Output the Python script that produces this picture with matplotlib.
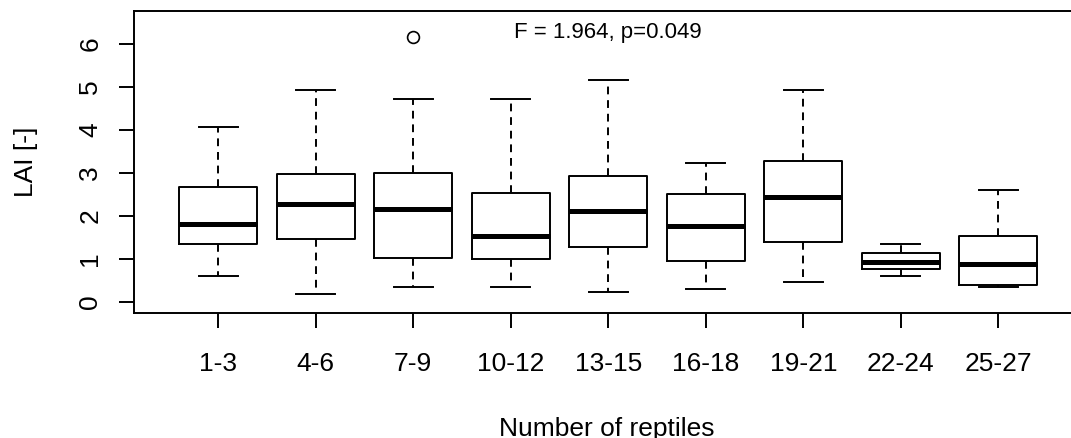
import matplotlib
matplotlib.use("Agg")
import matplotlib.pyplot as plt

plt.rcParams['font.family'] = ['Liberation Sans', 'DejaVu Sans']

groups = ["1-3", "4-6", "7-9", "10-12", "13-15", "16-18", "19-21", "22-24", "25-27"]
whis_lo = [0.61, 0.19, 0.34, 0.34, 0.22, 0.30, 0.45, 0.61, 0.34]
q1 = [1.34, 1.47, 1.03, 1.00, 1.27, 0.96, 1.38, 0.77, 0.38]
med = [1.81, 2.27, 2.15, 1.53, 2.11, 1.77, 2.43, 0.92, 0.88]
q3 = [2.67, 2.96, 2.99, 2.53, 2.92, 2.50, 3.27, 1.14, 1.53]
whis_hi = [4.07, 4.92, 4.72, 4.72, 5.15, 3.23, 4.92, 1.34, 2.60]
outliers = [[], [], [6.15], [], [], [], [], [], []]

stats = []
for i, g in enumerate(groups):
    stats.append(dict(label=g, whislo=whis_lo[i], q1=q1[i], med=med[i],
                      q3=q3[i], whishi=whis_hi[i], fliers=outliers[i]))

fig = plt.figure(figsize=(10.71, 4.38), dpi=100)
# right edge of the box sits past the image edge, as in the original
ax = fig.add_axes([134 / 1071, 125 / 438, 948.5 / 1071, 302 / 438])

lw = 1.4
ax.bxp(stats, positions=range(1, len(groups) + 1), widths=0.8,
       showfliers=True, capwidths=0.4,
       boxprops=dict(color="black", linewidth=lw),
       medianprops=dict(color="black", linewidth=3.6, solid_capstyle="butt"),
       whiskerprops=dict(color="black", linewidth=lw, linestyle=(0, (4, 3))),
       capprops=dict(color="black", linewidth=lw),
       flierprops=dict(marker="o", markerfacecolor="none", markeredgecolor="black",
                       markersize=8.5, markeredgewidth=1.2))

ax.set_xlim(0.136, 9.864)
ax.set_ylim(-0.26, 6.76)
ax.set_yticks(range(0, 7))

for s in ax.spines.values():
    s.set_linewidth(lw)
    s.set_color("black")

ax.tick_params(axis="both", length=10.8, width=lw, labelsize=19, color="black")
ax.tick_params(axis="x", pad=17)
ax.tick_params(axis="y", pad=12)
for t in ax.get_yticklabels():
    t.set_rotation(90)
    t.set_verticalalignment("center")

ax.text(5, 6.25, "F = 1.964, p=0.049", ha="center", va="center", fontsize=16)

ax.set_xlabel("Number of reptiles", fontsize=19, va="top")
ax.xaxis.set_label_coords((607 - 134) / 948.5, -0.343)
ax.set_ylabel("LAI [-]", fontsize=19)
ax.yaxis.set_label_coords(-0.1016, 0.5)

fig.savefig("out.png", dpi=100)
